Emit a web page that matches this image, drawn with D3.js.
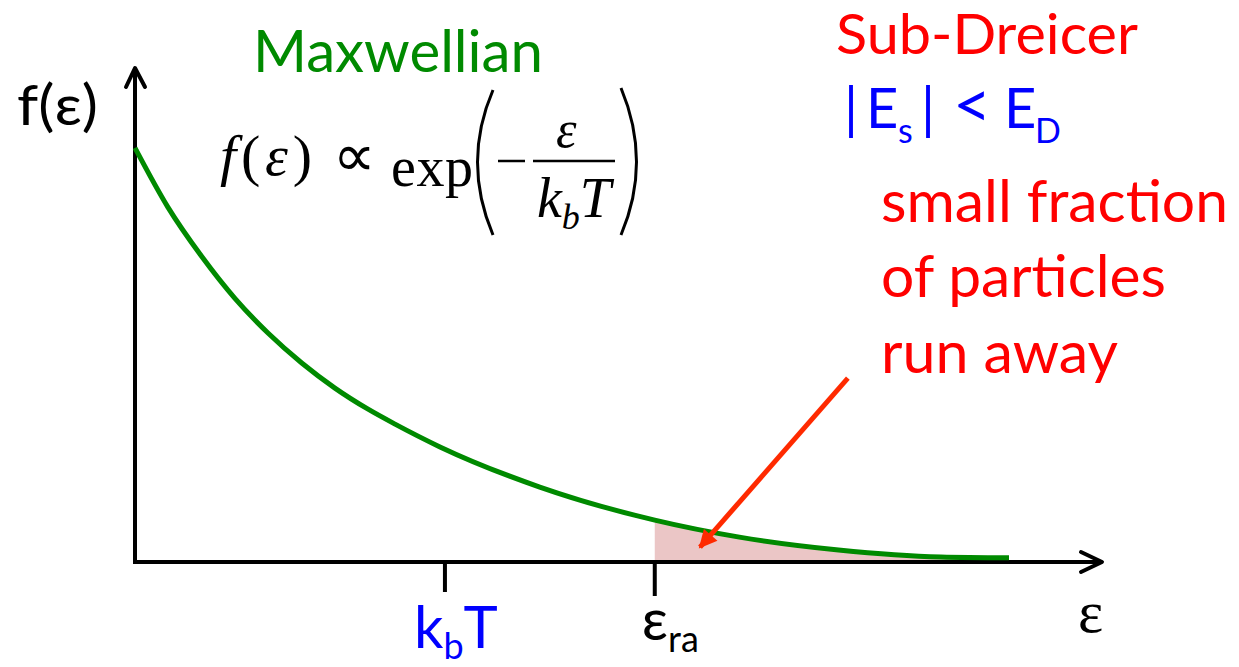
<!DOCTYPE html>
<html>
<head>
<meta charset="utf-8">
<script src="https://cdn.jsdelivr.net/npm/d3@7"></script>
<style>
  body { margin: 0; background: white; }
  svg { display: block; }
</style>
</head>
<body>
<div id="chart"></div>
<script>
// energy in units of k_b T, f normalised to f(0)
const curveEps = [0, 0.106, 0.216, 0.323, 0.429, 0.539, 0.645, 0.752, 0.839, 0.984, 1.306, 1.677, 1.95, 2.27, 2.6, 2.82];
const curveF   = [1.0, 0.857, 0.737, 0.636, 0.553, 0.48, 0.42, 0.369, 0.333, 0.278, 0.181, 0.101, 0.06, 0.029, 0.012, 0.01];
const tickEps = [1.0, 1.677];           // k_b T, eps_ra
const epsRa = 1.677;
const axisMax = [3.12, 1.193];           // x, y extent of the arrows
const arrowFrom = [2.3, 0.444];          // annotation arrow (data units)
const arrowTo = [1.823, 0.036];

const W = 1239, H = 667;
const margin = {top: 68, right: 137, bottom: 105, left: 135};

const svg = d3.select("#chart").append("svg")
    .attr("width", W).attr("height", H)
    .style("background", "white");

const x = d3.scaleLinear().domain([0, axisMax[0]]).range([margin.left, W - margin.right]);
const y = d3.scaleLinear().domain([0, axisMax[1]]).range([H - margin.bottom, margin.top]);

const pts = curveEps.map((e, i) => ({e, f: curveF[i]}));

// shaded tail
const tail = pts.filter(d => d.e >= epsRa);
svg.append("path")
    .datum(tail)
    .attr("fill", "#ebc6c6")
    .attr("d", d3.area().x(d => x(d.e)).y0(y(0)).y1(d => y(d.f)).curve(d3.curveMonotoneX));

// axes with open arrowheads
const axisG = svg.append("g").attr("stroke", "black").attr("stroke-width", 4).attr("fill", "none")
    .attr("stroke-linecap", "round").attr("stroke-linejoin", "round");
axisG.append("line").attr("x1", x(0)).attr("y1", y(0)).attr("x2", x(axisMax[0])).attr("y2", y(0)).attr("stroke-linecap", "butt");
axisG.append("line").attr("x1", x(0)).attr("y1", y(0) + 2).attr("x2", x(0)).attr("y2", y(axisMax[1])).attr("stroke-linecap", "butt");
axisG.append("path").attr("d", `M${x(axisMax[0]) - 21},${y(0) - 10}L${x(axisMax[0])},${y(0)}L${x(axisMax[0]) - 21},${y(0) + 10}`);
axisG.append("path").attr("d", `M${x(0) - 9},${y(axisMax[1]) + 19}L${x(0)},${y(axisMax[1])}L${x(0) + 10},${y(axisMax[1]) + 19}`);

// ticks
svg.selectAll(".tick").data(tickEps).join("line")
    .attr("class", "tick")
    .attr("x1", d => x(d)).attr("x2", d => x(d))
    .attr("y1", y(0)).attr("y2", (d, i) => y(0) + (i === 0 ? 30 : 34))
    .attr("stroke", "black").attr("stroke-width", 4);

// Maxwellian curve
svg.append("path")
    .datum(pts)
    .attr("fill", "none").attr("stroke", "#008a00").attr("stroke-width", 5)
    .attr("d", d3.line().x(d => x(d.e)).y(d => y(d.f)).curve(d3.curveMonotoneX));

// red annotation arrow
svg.append("defs").append("marker")
    .attr("id", "head").attr("viewBox", "0 0 10 10")
    .attr("refX", 9).attr("refY", 5)
    .attr("markerWidth", 4).attr("markerHeight", 3.6)
    .attr("markerUnits", "strokeWidth")
    .attr("orient", "auto")
    .append("path").attr("d", "M0,0L10,5L0,10Z").attr("fill", "#ff2a00");
svg.append("line")
    .attr("x1", x(arrowFrom[0])).attr("y1", y(arrowFrom[1]))
    .attr("x2", x(arrowTo[0])).attr("y2", y(arrowTo[1]))
    .attr("stroke", "#ff2a00").attr("stroke-width", 5)
    .attr("marker-end", "url(#head)");

// text labels
const sans = "Lato, 'Open Sans', sans-serif";
const serif = "'Liberation Serif', 'DejaVu Serif', serif";

function label(txt, px, py, color, size, len) {
    const t = svg.append("text").attr("x", px).attr("y", py)
        .attr("fill", color).style("font-family", sans).style("font-size", size + "px").text(txt);
    if (len) t.attr("textLength", len).attr("lengthAdjust", "spacingAndGlyphs");
    return t;
}

label("Maxwellian", 253, 72, "#008a00", 58, 290);
label("f(ε)", 17, 125, "black", 56, 81);
label("Sub-Dreicer", 836, 54, "#ff0000", 56, 302);
label("small fraction", 881, 222, "#ff0000", 58, 347);
label("of particles", 881, 297, "#ff0000", 58, 285);
label("run away", 881, 373, "#ff0000", 58, 237);

// |E_s| < E_D
const ed = svg.append("text").attr("y", 128).attr("fill", "#0000ff")
    .style("font-family", sans).style("font-size", "56px");
ed.append("tspan").attr("x", 844).text("|");
ed.append("tspan").attr("x", 866).text("E");
ed.append("tspan").attr("x", 898).attr("dy", 15).style("font-size", "34px").text("s");
ed.append("tspan").attr("x", 921).attr("dy", -15).text("|");
ed.append("tspan").attr("x", 953).style("font-size", "66px").text("<");
ed.append("tspan").attr("x", 1004).text("E");
ed.append("tspan").attr("x", 1035).attr("dy", 15).style("font-size", "34px").text("D");

// tick labels
const kt = svg.append("text").attr("x", x(tickEps[0]) - 31).attr("y", 648).attr("fill", "#0000ff")
    .style("font-family", sans).style("font-size", "58px");
kt.append("tspan").text("k");
kt.append("tspan").attr("dy", 11).style("font-size", "36px").text("b");
kt.append("tspan").attr("dy", -11).text("T");

const er = svg.append("text").attr("x", x(tickEps[1]) - 13).attr("y", 640).attr("fill", "black")
    .style("font-family", sans).style("font-size", "58px");
er.append("tspan").text("ε");
er.append("tspan").attr("dy", 12).style("font-size", "36px").text("ra");

svg.append("text").attr("x", 1078).attr("y", 632).attr("fill", "black")
    .style("font-family", serif).style("font-size", "60px").text("ε");

// formula f(ε) ∝ exp(−ε / k_b T)
const fm = svg.append("g").style("font-family", serif).attr("fill", "black");
fm.append("text").attr("x", 220).attr("y", 175).style("font-size", "58px")
    .attr("textLength", 92).attr("lengthAdjust", "spacing")
    .html('<tspan font-style="italic">f</tspan>(<tspan font-style="italic">ε</tspan>)');
fm.append("text").attr("x", 333).attr("y", 176).style("font-family", "'DejaVu Sans', sans-serif").style("font-size", "60px")
    .text("∝");
fm.append("text").attr("x", 391).attr("y", 186).style("font-size", "56px")
    .attr("textLength", 82).attr("lengthAdjust", "spacing").text("exp");
fm.append("path").attr("d", "M493,90 Q462,162 493,235").attr("fill", "none").attr("stroke", "black").attr("stroke-width", 3);
fm.append("path").attr("d", "M621,88 Q652,162 621,235").attr("fill", "none").attr("stroke", "black").attr("stroke-width", 3);
fm.append("line").attr("x1", 498).attr("x2", 525).attr("y1", 161).attr("y2", 161).attr("stroke", "black").attr("stroke-width", 2.5);
fm.append("line").attr("x1", 533).attr("x2", 615).attr("y1", 161).attr("y2", 161).attr("stroke", "black").attr("stroke-width", 2.5);
fm.append("text").attr("x", 556).attr("y", 147).style("font-size", "52px").style("font-style", "italic").text("ε");
const den = fm.append("text").attr("x", 537).attr("y", 217).style("font-size", "56px").style("font-style", "italic");
den.append("tspan").text("k");
den.append("tspan").attr("dy", 12).style("font-size", "36px").text("b");
den.append("tspan").attr("dy", -12).text("T");
</script>
</body>
</html>
